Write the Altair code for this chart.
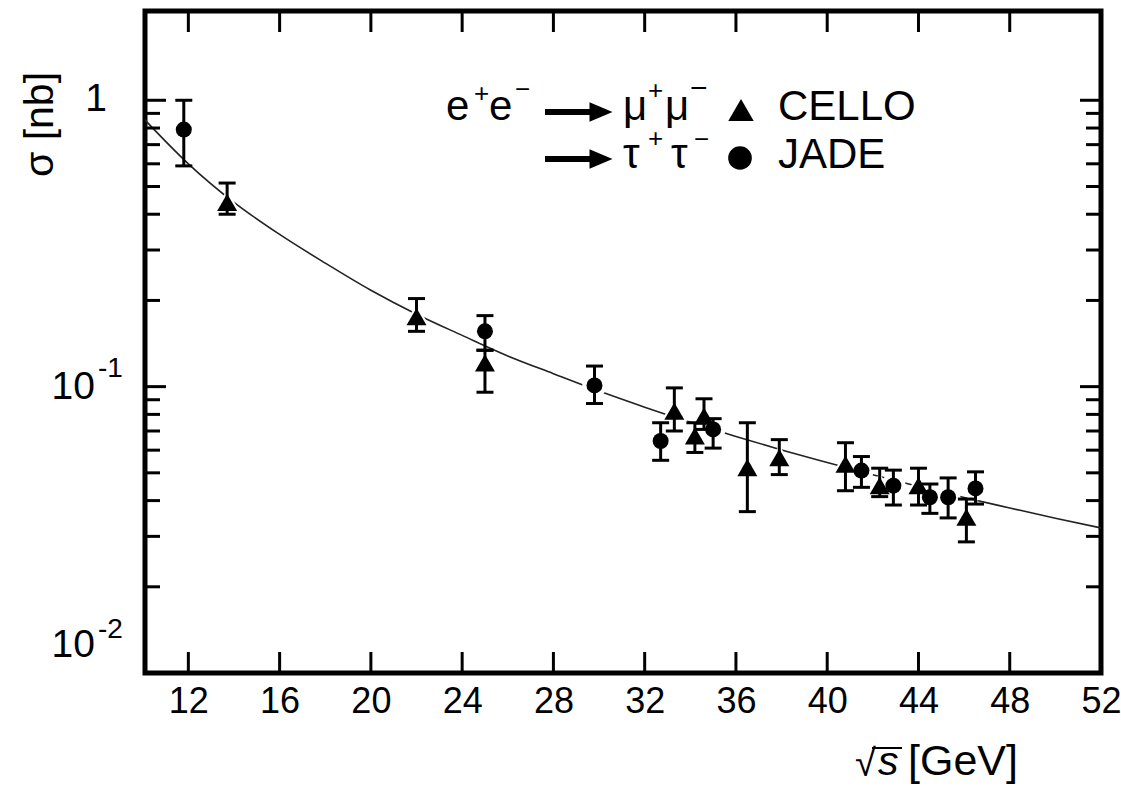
import altair as alt
import pandas as pd

# ---- data ----
cello_x = [13.7, 22.0, 25.0, 33.3, 34.2, 34.6, 36.5, 37.9, 40.8, 42.3, 44.0, 46.1]
cello_y = [0.44, 0.1755, 0.121, 0.0821, 0.0673, 0.0789, 0.0522, 0.0565, 0.0536, 0.0451, 0.0451, 0.035]
cello_lo = [0.40, 0.156, 0.0956, 0.070, 0.0589, 0.0709, 0.0366, 0.0493, 0.0433, 0.0413, 0.0386, 0.0287]
cello_hi = [0.514, 0.203, 0.134, 0.099, 0.0748, 0.0907, 0.0748, 0.0653, 0.0637, 0.0519, 0.0519, 0.0405]

jade_x = [11.8, 25.0, 29.8, 32.7, 35.0, 41.5, 42.9, 44.5, 45.3, 46.5]
jade_y = [0.79, 0.156, 0.101, 0.0646, 0.0709, 0.0509, 0.0451, 0.0411, 0.0411, 0.0441]
jade_lo = [0.59, 0.134, 0.0873, 0.0553, 0.061, 0.0445, 0.0386, 0.0361, 0.0348, 0.0389]
jade_hi = [1.0, 0.177, 0.118, 0.0748, 0.0773, 0.057, 0.0511, 0.0457, 0.048, 0.0504]

curve_x = [10, 12, 14, 16, 18, 20, 22, 24, 26, 28, 30, 32, 34, 36, 38, 40, 42, 44, 46, 48, 50, 52]
curve_y = [0.87, 0.60, 0.44, 0.34, 0.27, 0.217, 0.179, 0.151, 0.128, 0.111, 0.0965, 0.0848,
           0.0751, 0.067, 0.0601, 0.0543, 0.0492, 0.0448, 0.041, 0.0377, 0.0347, 0.0321]

x_ticks = [12, 16, 20, 24, 28, 32, 36, 40, 44, 48, 52]
x_inner_ticks = [12, 16, 20, 24, 28, 32, 36, 40, 44, 48]
y_major = [0.1, 1]
y_minor = [0.02, 0.03, 0.04, 0.05, 0.06, 0.07, 0.08, 0.09,
           0.2, 0.3, 0.4, 0.5, 0.6, 0.7, 0.8, 0.9]

W, H = 956, 662
FONT = "Liberation Sans"

xscale = alt.Scale(domain=[10.1, 52], zero=False, nice=False)
yscale = alt.Scale(type="log", domain=[0.01, 2.05], nice=False)

xaxis = alt.Axis(values=x_ticks, ticks=False, tickSize=0, domain=False, grid=False,
                 labelFontSize=36, labelFont=FONT, labelColor="black", labelPadding=11,
                 labelFlush=False, title=None)
yaxis = alt.Axis(values=[0.01, 0.1, 1], ticks=False, tickSize=0, domain=False, grid=False,
                 labels=False, title="σ [nb]", titleFont=FONT, titleFontSize=41,
                 titleFontWeight="normal", titleColor="black", titleAngle=270,
                 titleX=-105, titleY=113, titleAlign="center", titleBaseline="middle")


def X(field="x"):
    return alt.X(field, type="quantitative", scale=xscale, axis=xaxis)


def Y(field="y"):
    return alt.Y(field, type="quantitative", scale=yscale, axis=yaxis)


cello = pd.DataFrame({"x": cello_x, "y": cello_y, "lo": cello_lo, "hi": cello_hi})
jade = pd.DataFrame({"x": jade_x, "y": jade_y, "lo": jade_lo, "hi": jade_hi})
curve = pd.DataFrame({"x": curve_x, "y": curve_y})

layers = []
layers.append(alt.Chart(curve).mark_line(color="#222222", strokeWidth=1.6, clip=True,
                                          interpolate="monotone").encode(x=X(), y=Y()))
# white halos that break the curve around the markers
layers.append(alt.Chart(cello).mark_point(shape="triangle-up", filled=True, color="white",
                                           size=900, opacity=1).encode(x=X(), y=Y()))
layers.append(alt.Chart(jade).mark_point(shape="circle", filled=True, color="white",
                                          size=600, opacity=1).encode(x=X(), y=Y()))
for df in (cello, jade):
    layers.append(alt.Chart(df).mark_rule(color="black", strokeWidth=3).encode(
        x=X(), y=Y("lo"), y2=alt.Y2("hi")))
    for f in ("lo", "hi"):
        layers.append(alt.Chart(df).mark_tick(orient="horizontal", color="black", size=17,
                                              thickness=3, opacity=1).encode(x=X(), y=Y(f)))
layers.append(alt.Chart(cello).mark_point(shape="triangle-up", filled=True, color="black",
                                           size=400, opacity=1).encode(x=X(), y=Y()))
layers.append(alt.Chart(jade).mark_point(shape="circle", filled=True, color="black",
                                          size=256, opacity=1).encode(x=X(), y=Y()))

# inward ticks on all four sides
xt = pd.DataFrame({"x": x_inner_ticks})
layers.append(alt.Chart(xt).mark_rule(color="black", strokeWidth=3).encode(
    x=X(), y=alt.value(H), y2=alt.value(H - 21)))
layers.append(alt.Chart(xt).mark_rule(color="black", strokeWidth=3).encode(
    x=X(), y=alt.value(0), y2=alt.value(21)))
for vals, ln in ((y_major, 21), (y_minor, 15)):
    yt = pd.DataFrame({"y": vals})
    layers.append(alt.Chart(yt).mark_rule(color="black", strokeWidth=3).encode(
        y=Y(), x=alt.value(0), x2=alt.value(ln)))
    layers.append(alt.Chart(yt).mark_rule(color="black", strokeWidth=3).encode(
        y=Y(), x=alt.value(W), x2=alt.value(W - ln)))

# y tick labels with real superscripts (base + raised exponent)
def ylab(val, base, sup, dy_base, dy_sup):
    d = pd.DataFrame({"y": [val]})
    out = [alt.Chart(d).mark_text(text=base, font=FONT, fontSize=39, align="right",
                                  baseline="alphabetic", color="black", dy=dy_base).encode(
        y=Y(), x=alt.value(-50 if sup else -38))]
    if sup:
        out.append(alt.Chart(d).mark_text(text=sup, font=FONT, fontSize=28, align="left",
                                          baseline="alphabetic", color="black", dy=dy_sup).encode(
            y=Y(), x=alt.value(-47)))
    return out


layers += ylab(1, "1", "", 11, 0)
layers += ylab(0.1, "10", "-1", 12, -10)
layers += ylab(0.01, "10", "-2", -16, -35)

# annotation texts
one = pd.DataFrame({"a": [0]})


def txt(s, x, y, align="left", size=42, style="normal"):
    return alt.Chart(one).mark_text(text=s, font=FONT, fontSize=size, align=align,
                                    baseline="alphabetic", color="black",
                                    fontStyle=style).encode(x=alt.value(x), y=alt.value(y))


# x-axis title: sqrt(s) [GeV]
layers.append(txt("\u221a", 710, 765, size=38))
layers.append(txt("s", 733, 764, size=41, style="italic"))
layers.append(alt.Chart(one).mark_rule(color="black", strokeWidth=2).encode(
    x=alt.value(727), x2=alt.value(757), y=alt.value(737)))
layers.append(txt("[GeV]", 763, 764, size=43))

# legend: e+e- -> mu+mu- / tau+tau-
layers.append(txt("e", 301, 109))
layers.append(txt("+", 329, 91, size=26))
layers.append(txt("e", 344, 109))
layers.append(txt("\u2212", 370, 87, size=26))
layers.append(txt("\u03bc", 478, 109))
layers.append(txt("+", 503, 88, size=26))
layers.append(txt("\u03bc", 520, 109))
layers.append(txt("\u2212", 545, 87, size=30))
layers.append(txt("CELLO", 633, 109))
layers.append(txt("\u03c4", 478, 157))
layers.append(txt("+", 503, 136, size=26))
layers.append(txt("\u03c4", 526, 157))
layers.append(txt("\u2212", 549, 137, size=26))
layers.append(txt("JADE", 633, 157))
for yy in (101, 148):
    layers.append(alt.Chart(one).mark_rule(color="black", strokeWidth=6).encode(
        x=alt.value(400), x2=alt.value(448), y=alt.value(yy)))
    layers.append(alt.Chart(one).mark_point(shape="M-1,-0.85L1,0L-1,0.85Z", filled=True,
                                             color="black", size=529, opacity=1).encode(
        x=alt.value(456), y=alt.value(yy)))
layers.append(alt.Chart(one).mark_point(shape="triangle-up", filled=True, color="black",
                                         size=650, opacity=1).encode(
    x=alt.value(596), y=alt.value(99)))
layers.append(alt.Chart(one).mark_point(shape="circle", filled=True, color="black",
                                         size=560, opacity=1).encode(
    x=alt.value(595), y=alt.value(147)))

chart = alt.layer(*layers).properties(
    width=W, height=H,
    autosize=alt.AutoSizeParams(type="none"),
    padding={"left": 145, "top": 11, "right": 20, "bottom": 118},
    background="white",
).configure_view(stroke="black", strokeWidth=5)

chart.save("out.html", embed_options={"renderer": "svg", "actions": False})
